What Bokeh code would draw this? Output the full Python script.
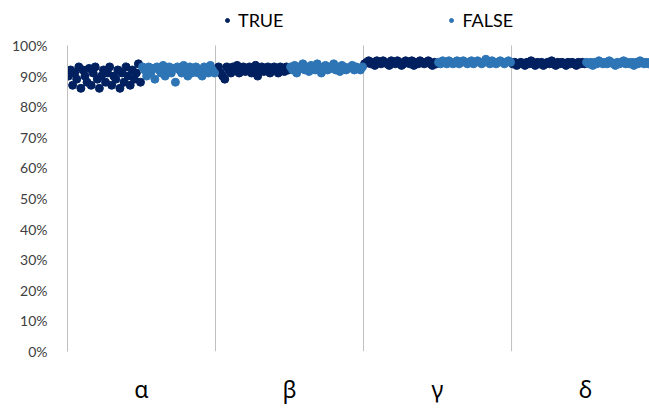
from bokeh.plotting import figure
from bokeh.models import (ColumnDataSource, FixedTicker, NumeralTickFormatter,
                          Legend, LegendItem, Range1d)
from bokeh.embed import file_html
from bokeh.resources import INLINE

# Categories and per-category measurements for each group
categories = ["α", "β", "γ", "δ"]

true_alpha = [0.90, 0.92, 0.87, 0.91, 0.89, 0.93, 0.86, 0.92, 0.90, 0.88, 0.925, 0.87,
              0.91, 0.93, 0.89, 0.86, 0.90, 0.92, 0.88, 0.91, 0.93, 0.87, 0.90, 0.89,
              0.92, 0.86, 0.91, 0.88, 0.93, 0.90, 0.87, 0.92, 0.89, 0.91, 0.94, 0.88]
false_alpha = [0.93, 0.92, 0.90, 0.93, 0.91, 0.925, 0.89, 0.93, 0.92, 0.91, 0.935, 0.90,
               0.92, 0.93, 0.91, 0.925, 0.88, 0.93, 0.92, 0.91, 0.935, 0.92, 0.90, 0.93,
               0.91, 0.925, 0.93, 0.91, 0.92, 0.90, 0.93, 0.925, 0.91, 0.935, 0.92, 0.91]

true_beta = [0.92, 0.93, 0.91, 0.90, 0.89, 0.93, 0.92, 0.91, 0.93, 0.92, 0.935, 0.91,
             0.92, 0.93, 0.915, 0.92, 0.93, 0.91, 0.92, 0.935, 0.90, 0.92, 0.93, 0.915,
             0.92, 0.93, 0.91, 0.925, 0.93, 0.92, 0.91, 0.93, 0.92, 0.915, 0.93, 0.92]
false_beta = [0.93, 0.92, 0.935, 0.91, 0.93, 0.925, 0.94, 0.92, 0.93, 0.915, 0.935, 0.93,
              0.92, 0.94, 0.925, 0.91, 0.93, 0.935, 0.92, 0.93, 0.925, 0.94, 0.92, 0.93,
              0.915, 0.935, 0.93, 0.92, 0.925, 0.93, 0.935, 0.92, 0.93, 0.925, 0.92, 0.93]

true_gamma = [0.94, 0.945, 0.95, 0.94, 0.945, 0.935, 0.95, 0.945, 0.94, 0.95, 0.945, 0.94,
              0.935, 0.95, 0.945, 0.94, 0.95, 0.945, 0.935, 0.94, 0.95, 0.945, 0.94, 0.95,
              0.935, 0.945, 0.94, 0.95, 0.945, 0.94, 0.945, 0.95, 0.94, 0.935, 0.945, 0.94]
false_gamma = [0.945, 0.94, 0.95, 0.945, 0.94, 0.95, 0.945, 0.94, 0.945, 0.95, 0.94, 0.945,
               0.95, 0.945, 0.94, 0.945, 0.95, 0.94, 0.945, 0.95, 0.945, 0.94, 0.945, 0.955,
               0.945, 0.94, 0.95, 0.945, 0.94, 0.945, 0.95, 0.945, 0.94, 0.945, 0.95, 0.945]

true_delta = [0.94, 0.945, 0.935, 0.94, 0.945, 0.94, 0.935, 0.945, 0.94, 0.95, 0.94, 0.935,
              0.945, 0.94, 0.945, 0.935, 0.94, 0.945, 0.94, 0.95, 0.94, 0.935, 0.945, 0.94,
              0.945, 0.94, 0.935, 0.945, 0.94, 0.945, 0.94, 0.935, 0.945, 0.94, 0.945, 0.94]
false_delta = [0.945, 0.94, 0.945, 0.935, 0.945, 0.94, 0.95, 0.945, 0.94, 0.945, 0.94, 0.95,
               0.945, 0.94, 0.935, 0.945, 0.94, 0.945, 0.95, 0.94, 0.945, 0.94, 0.945, 0.935,
               0.945, 0.94, 0.95, 0.945, 0.94, 0.945, 0.94, 0.945, 0.95, 0.94, 0.945, 0.94]

true_series = [true_alpha, true_beta, true_gamma, true_delta]
false_series = [false_alpha, false_beta, false_gamma, false_delta]

y_ticks = [i / 10 for i in range(11)]

DARK = "#002060"
LIGHT = "#2E75B6"
GRID = "#BFBFBF"


def strip_source(groups, half):
    """Spread each category's values across its left (0) or right (1) half;
    category c is centred on x = c."""
    xs, ys = [], []
    for c, vals in enumerate(groups):
        n = len(vals)
        for i, v in enumerate(vals):
            xs.append(c - 0.5 + 0.5 * half + 0.5 * (i + 0.5) / n)
            ys.append(v)
    return ColumnDataSource(dict(x=xs, y=ys))


# Headroom above 100% holds the legend inside the frame
p = figure(width=649, height=409, output_backend="svg", toolbar_location=None,
           x_range=Range1d(-0.5, 3.432), y_range=Range1d(0, 1.147),
           min_border_left=67, min_border_right=0, min_border_top=0,
           min_border_bottom=58)
p.outline_line_color = None
p.background_fill_color = "white"
p.border_fill_color = "white"

# separators between categories, spanning 0-100%
seps = [c + 0.5 for c in range(len(categories) - 1)]
p.segment(x0=seps, y0=[0] * len(seps), x1=seps, y1=[1] * len(seps),
          line_color=GRID, line_width=1)

r_true = p.scatter("x", "y", source=strip_source(true_series, 0), size=8,
                   fill_color=DARK, line_color=DARK)
r_false = p.scatter("x", "y", source=strip_source(false_series, 1), size=8,
                    fill_color=LIGHT, line_color=LIGHT)

# y axis: percent ticks, light axis line limited to 0-100%, no tick marks
p.yaxis.ticker = FixedTicker(ticks=y_ticks)
p.yaxis.formatter = NumeralTickFormatter(format="0%")
p.yaxis.bounds = (0, 1)
p.yaxis.axis_line_color = GRID
p.yaxis.major_tick_line_color = None
p.yaxis.minor_tick_line_color = None
p.yaxis.major_label_text_font = "Lato"
p.yaxis.major_label_text_font_size = "14px"
p.yaxis.major_label_text_color = "#404040"
p.yaxis.major_label_standoff = 14
p.ygrid.grid_line_color = None

# x axis: category names centred in each band
p.xaxis.ticker = FixedTicker(ticks=list(range(len(categories))))
p.xaxis.major_label_overrides = {c: name for c, name in enumerate(categories)}
p.xaxis.axis_line_color = None
p.xaxis.major_tick_line_color = None
p.xaxis.minor_tick_line_color = None
p.xaxis.major_label_text_font = "Noto Sans"
p.xaxis.major_label_text_font_size = "23px"
p.xaxis.major_label_text_color = "#000000"
p.xaxis.major_label_standoff = 15
p.xgrid.grid_line_color = None

legend = Legend(items=[LegendItem(label="TRUE", renderers=[r_true]),
                       LegendItem(label="FALSE", renderers=[r_false])],
                orientation="horizontal", location=(155, 320),
                spacing=163, glyph_width=10, glyph_height=10, label_standoff=6,
                label_text_font="Lato", label_text_font_size="18px",
                label_text_color="#000000", border_line_color=None,
                background_fill_alpha=0, padding=0, margin=0)
p.add_layout(legend)

open("out.html", "w").write(file_html(p, INLINE))
